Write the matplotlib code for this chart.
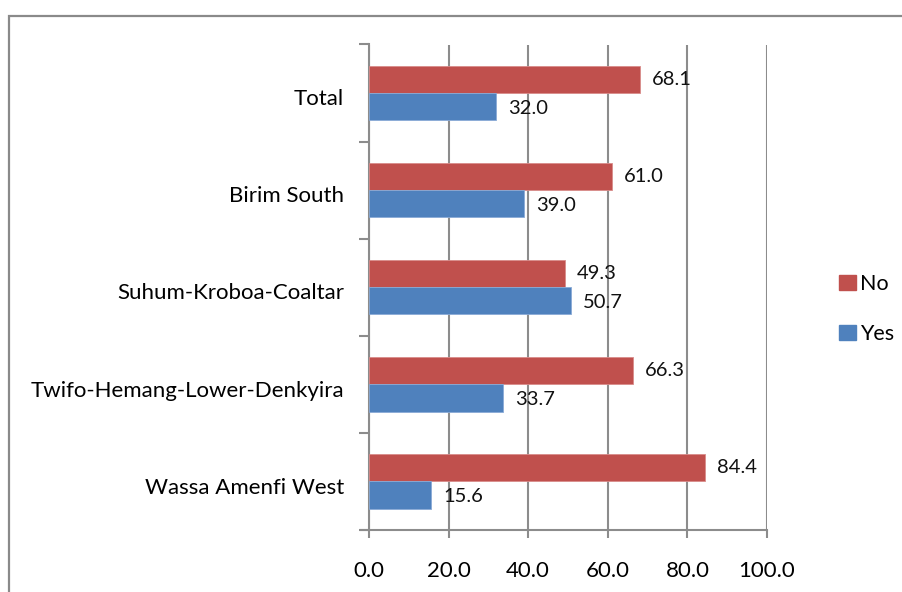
import matplotlib
matplotlib.use('Agg')
import matplotlib.pyplot as plt
import matplotlib.transforms as mtransforms
from matplotlib.patches import Rectangle, Patch
import numpy as np

plt.rcParams['font.family'] = ['Lato', 'DejaVu Sans']

# =============================================================================
# DATA
# =============================================================================

districts = ['Wassa Amenfi West', 'Twifo-Hemang-Lower-Denkyira',
             'Suhum-Kroboa-Coaltar', 'Birim South', 'Total']
yes_vals = [15.6, 33.7, 50.7, 39.0, 32.0]
no_vals = [84.4, 66.3, 49.3, 61.0, 68.1]
xticks = [0, 20, 40, 60, 80, 100]

c_no = '#C0504D'
c_yes = '#4F81BD'
c_grid = '#8C8C8C'

# =============================================================================
# PLOT
# =============================================================================

W, H = 903, 592
fig = plt.figure(figsize=(W/100, H/100), dpi=100)
ax = fig.add_axes([369/W, 1-530/H, (767-369)/W, (530-44.5)/H])

# outer chart frame (only top and left edges are visible)
fig.patches.append(Rectangle((9.5/W, -0.5), 2.0, 1.5-16/H, transform=fig.transFigure,
                             fill=False, edgecolor='#8A8A8A', linewidth=1.6))

y = np.arange(len(districts))
h = 0.28
ax.barh(y+h/2, no_vals, height=h, color=c_no, edgecolor='#D98C8A', linewidth=0.6, zorder=3)
ax.barh(y-h/2, yes_vals, height=h, color=c_yes, edgecolor='#8AAAD6', linewidth=0.6, zorder=3)

for i in range(len(districts)):
    ax.text(no_vals[i]+3, y[i]+h/2, '%.1f' % no_vals[i], va='center', ha='left',
            fontsize=14.5, color='#111111', zorder=4)
    ax.text(yes_vals[i]+3, y[i]-h/2-0.02, '%.1f' % yes_vals[i], va='center', ha='left',
            fontsize=14.5, color='#111111', zorder=4)

ax.set_xlim(0, 100)
ax.set_ylim(-0.5, len(districts)-0.5)
ax.set_xticks(xticks)
ax.set_xticklabels(['%.1f' % v for v in xticks], fontsize=16)
ax.set_yticks(y)
ax.set_yticklabels(districts, fontsize=16)
ax.set_yticks(np.arange(-0.5, len(districts)), minor=True)

ax.tick_params(axis='y', which='major', length=0, pad=18)
ax.tick_params(axis='y', which='minor', length=7, width=1.5, color=c_grid)
ax.tick_params(axis='x', which='major', length=6, width=1.5, color=c_grid, pad=16)

# category labels sit a little below the band centre
shift = mtransforms.ScaledTranslation(0, -3/72, fig.dpi_scale_trans)
for lab in ax.get_yticklabels():
    lab.set_transform(lab.get_transform() + shift)

ax.grid(axis='x', color=c_grid, linewidth=1.5, zorder=0)
ax.set_axisbelow(True)
for s in ['top', 'right']:
    ax.spines[s].set_visible(False)
for s in ['left', 'bottom']:
    ax.spines[s].set_color(c_grid)
    ax.spines[s].set_linewidth(1.5)
ax.spines['bottom'].set_bounds(-2, 100)

handles = [Patch(color=c_no, label='No'), Patch(color=c_yes, label='Yes')]
fig.legend(handles=handles, loc='center left', bbox_to_anchor=(820/W, 1-309/H),
           frameon=False, fontsize=15.5, handlelength=0.75, handleheight=0.75,
           handletextpad=0.2, labelspacing=1.4)

fig.savefig('out.png', dpi=100)
